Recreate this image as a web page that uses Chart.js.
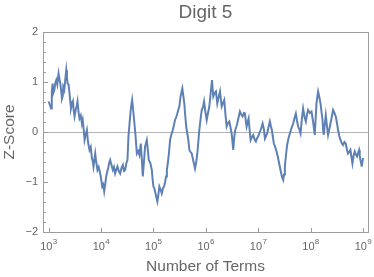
<!DOCTYPE html>
<html>
<head>
<meta charset="utf-8">
<script src="https://cdn.jsdelivr.net/npm/chart.js@4"></script>
<style>
  html, body { margin: 0; padding: 0; background: #fff; }
  #chart { display: block; }
</style>
</head>
<body>
<canvas id="chart" width="374" height="277"></canvas>
<script>
// log10(number of terms)
let termExponents = [
  3.000, 3.032, 3.046, 3.061, 3.076, 3.090, 3.109, 3.128, 3.147, 3.166, 3.190, 3.204, 3.223, 3.242, 3.255, 3.270,
  3.280, 3.299, 3.318, 3.337, 3.350, 3.362, 3.381, 3.400, 3.413, 3.427, 3.446, 3.465, 3.480, 3.495, 3.518, 3.537,
  3.552, 3.571, 3.590, 3.613, 3.636, 3.651, 3.670, 3.686, 3.709, 3.731, 3.752, 3.781, 3.804, 3.827, 3.842, 3.857,
  3.874, 3.890, 3.909, 3.933, 3.956, 3.985, 4.004, 4.023, 4.042, 4.061, 4.080, 4.099, 4.118, 4.137, 4.156, 4.175,
  4.200, 4.227, 4.248, 4.270, 4.293, 4.314, 4.339, 4.366, 4.390, 4.417, 4.438, 4.461, 4.484, 4.505, 4.524, 4.547,
  4.570, 4.594, 4.613, 4.632, 4.657, 4.684, 4.709, 4.733, 4.760, 4.779, 4.798, 4.819, 4.842, 4.874, 4.893, 4.912,
  4.941, 4.970, 4.985, 5.000, 5.017, 5.032, 5.055, 5.076, 5.095, 5.114, 5.137, 5.160, 5.185, 5.204, 5.223, 5.242,
  5.257, 5.274, 5.299, 5.318, 5.343, 5.370, 5.394, 5.413, 5.436, 5.457, 5.476, 5.495, 5.518, 5.552, 5.571, 5.590,
  5.604, 5.627, 5.648, 5.667, 5.686, 5.709, 5.731, 5.762, 5.794, 5.817, 5.838, 5.857, 5.876, 5.899, 5.922, 5.947,
  5.966, 5.990, 6.017, 6.042, 6.067, 6.093, 6.118, 6.131, 6.143, 6.170, 6.194, 6.219, 6.246, 6.270, 6.303, 6.328,
  6.352, 6.375, 6.398, 6.423, 6.448, 6.470, 6.493, 6.509, 6.524, 6.543, 6.562, 6.581, 6.600, 6.627, 6.651, 6.676,
  6.703, 6.728, 6.747, 6.766, 6.779, 6.798, 6.817, 6.836, 6.855, 6.880, 6.905, 6.931, 6.956, 6.979, 7.000, 7.023,
  7.046, 7.065, 7.084, 7.109, 7.128, 7.150, 7.171, 7.198, 7.223, 7.242, 7.261, 7.280, 7.299, 7.324, 7.350, 7.375,
  7.400, 7.423, 7.446, 7.461, 7.476, 7.493, 7.509, 7.531, 7.552, 7.579, 7.604, 7.636, 7.667, 7.693, 7.718, 7.741,
  7.762, 7.785, 7.808, 7.832, 7.857, 7.884, 7.909, 7.931, 7.952, 7.985, 8.017, 8.048, 8.080, 8.095, 8.112, 8.128,
  8.143, 8.166, 8.189, 8.208, 8.227, 8.238, 8.251, 8.270, 8.290, 8.312, 8.333, 8.356, 8.379, 8.404, 8.429, 8.455,
  8.480, 8.503, 8.524, 8.547, 8.570, 8.594, 8.619, 8.646, 8.670, 8.693, 8.714, 8.737, 8.760, 8.779, 8.798, 8.819,
  8.842, 8.865, 8.886, 8.905, 8.924, 8.937, 8.950, 8.964, 8.975, 9.000
];
let zScores = [
  0.61, 0.52, 0.47, 0.80, 0.97, 0.78, 0.84, 0.98, 1.04, 0.95, 1.17, 1.08, 0.97, 0.80, 0.67, 0.72,
  0.90, 0.84, 1.05, 1.24, 1.10, 0.97, 0.95, 0.77, 0.62, 0.47, 0.55, 0.61, 0.42, 0.31, 0.45, 0.52,
  0.61, 0.40, 0.27, 0.33, 0.17, 0.24, 0.05, -0.16, -0.05, 0.04, -0.20, -0.36, -0.30, -0.53, -0.58, -0.69,
  -0.55, -0.43, -0.60, -0.76, -0.70, -0.83, -0.95, -1.09, -1.05, -1.19, -1.05, -0.89, -0.80, -0.72, -0.62, -0.56,
  -0.66, -0.76, -0.70, -0.83, -0.75, -0.69, -0.78, -0.83, -0.72, -0.66, -0.78, -0.76, -0.62, -0.56, -0.09, 0.20,
  0.47, 0.64, 0.45, 0.24, -0.05, -0.43, -0.38, -0.46, -0.23, -0.55, -0.89, -0.60, -0.29, -0.16, -0.35, -0.56,
  -0.62, -0.76, -0.95, -1.09, -1.12, -1.19, -1.30, -1.39, -1.25, -1.09, -1.15, -1.23, -1.12, -1.09, -1.00, -0.89,
  -0.75, -0.63, -0.40, -0.16, -0.05, 0.04, 0.15, 0.24, 0.30, 0.37, 0.45, 0.51, 0.71, 0.87, 0.72, 0.57,
  0.37, 0.10, -0.03, -0.16, -0.36, -0.40, -0.43, -0.58, -0.73, -0.60, -0.43, -0.20, 0.04, 0.25, 0.44, 0.50,
  0.61, 0.42, 0.24, 0.38, 0.51, 0.78, 1.04, 0.85, 0.71, 0.78, 0.81, 0.57, 0.70, 0.81, 0.51, 0.58,
  0.64, 0.35, 0.11, 0.18, 0.21, 0.10, -0.03, -0.20, -0.36, -0.10, 0.04, 0.10, 0.17, 0.30, 0.41, 0.35,
  0.31, 0.38, 0.37, 0.20, 0.11, 0.20, 0.27, 0.05, -0.16, -0.10, -0.06, -0.15, -0.19, -0.12, -0.09, -0.02,
  0.04, 0.10, 0.17, 0.05, -0.13, -0.08, -0.03, 0.10, 0.21, 0.12, 0.04, -0.10, -0.23, -0.30, -0.39, -0.50,
  -0.63, -0.75, -0.86, -0.92, -0.96, -0.85, -0.69, -0.45, -0.26, -0.12, -0.03, 0.08, 0.17, 0.28, 0.37, 0.22,
  0.11, 0.05, -0.03, 0.25, 0.47, 0.30, 0.21, 0.35, 0.44, 0.38, 0.41, 0.20, -0.06, 0.25, 0.57, 0.70,
  0.81, 0.70, 0.57, 0.40, 0.24, 0.05, -0.06, 0.15, 0.34, 0.12, -0.06, 0.05, 0.17, 0.30, 0.44, 0.38,
  0.31, 0.18, 0.04, -0.08, -0.16, -0.22, -0.26, -0.20, -0.23, -0.35, -0.43, -0.40, -0.36, -0.50, -0.63, -0.48,
  -0.39, -0.45, -0.49, -0.42, -0.36, -0.48, -0.56, -0.62, -0.69, -0.52
];
let xTickExponents = [3, 4, 5, 6, 7, 8, 9];
let yTicks = [-2, -1, 0, 1, 2];

let lineColor = "#5e81b5";
let textColor = "#666666";
let frameColor = "#9d9d9d";
let fontFamily = "'Liberation Sans', Arial, sans-serif";

let points = termExponents.map((e, i) => ({ x: Math.pow(10, e), y: zScores[i] }));

// frame, zero axis and inward ticks (Mathematica style)
let framePlugin = {
  id: "frame",
  beforeDatasetsDraw(chart) {
    let { ctx, chartArea: a, scales } = chart;
    ctx.save();
    ctx.lineWidth = 1;
    ctx.strokeStyle = "#b4b4b4";
    let y0 = Math.round(scales.y.getPixelForValue(0)) + 0.5;
    ctx.beginPath(); ctx.moveTo(a.left, y0); ctx.lineTo(a.right, y0); ctx.stroke();
    ctx.strokeStyle = frameColor;
    ctx.beginPath();
    for (let i = -10; i <= 10; i++) {
      let py = Math.round(scales.y.getPixelForValue(i / 5)) + 0.5;
      let len = (i % 5 === 0) ? 5 : 3;
      ctx.moveTo(a.left, py); ctx.lineTo(a.left + len, py);
    }
    xTickExponents.forEach(e => {
      let px = Math.round(scales.x.getPixelForValue(Math.pow(10, e))) + 0.5;
      ctx.moveTo(px, a.bottom); ctx.lineTo(px, a.bottom - 4);
    });
    ctx.stroke();
    ctx.strokeRect(Math.round(a.left) + 0.5, Math.round(a.top) + 0.5, Math.round(a.right - a.left), Math.round(a.bottom - a.top));
    ctx.restore();
  },
  // 10^n labels with a real raised exponent
  afterDraw(chart) {
    let { ctx, chartArea: a, scales } = chart;
    ctx.save();
    ctx.fillStyle = textColor;
    ctx.textBaseline = "alphabetic";
    ctx.textAlign = "left";
    xTickExponents.forEach(e => {
      let px = scales.x.getPixelForValue(Math.pow(10, e));
      ctx.font = "11px " + fontFamily;
      let w1 = ctx.measureText("10").width;
      ctx.font = "8px " + fontFamily;
      let w2 = ctx.measureText(String(e)).width;
      let x0 = px - (w1 + w2) / 2;
      ctx.font = "11px " + fontFamily;
      ctx.fillText("10", x0, a.bottom + 17.5);
      ctx.font = "8px " + fontFamily;
      ctx.fillText(String(e), x0 + w1 + 0.3, a.bottom + 12);
    });
    ctx.restore();
  }
};

Chart.defaults.font.family = fontFamily;

new Chart(document.getElementById("chart"), {
  type: "line",
  data: {
    datasets: [{
      data: points,
      borderColor: lineColor,
      borderWidth: 2,
      pointRadius: 0,
      tension: 0,
      fill: false
    }]
  },
  options: {
    responsive: false,
    animation: false,
    devicePixelRatio: 1,
    layout: { padding: { top: 0, right: 6, bottom: 0, left: 0 } },
    plugins: {
      legend: { display: false },
      tooltip: { enabled: false },
      title: {
        display: true,
        text: "Digit 5",
        fullSize: false,
        color: textColor,
        font: { size: 19, weight: "normal" },
        padding: { top: 1.6, bottom: 7.6 }
      }
    },
    scales: {
      x: {
        type: "logarithmic",
        min: 782,
        max: 1.245e9,
        afterBuildTicks: s => { s.ticks = xTickExponents.map(e => ({ value: Math.pow(10, e) })); },
        afterFit: s => { s.height = 45; },
        grid: { display: false, drawTicks: false },
        border: { display: false },
        ticks: {
          autoSkip: false,
          maxRotation: 0,
          callback: () => ""
        },
        title: {
          display: true,
          text: "Number of Terms",
          color: textColor,
          font: { size: 15.5 },
          padding: { top: 0, bottom: 1 }
        }
      },
      y: {
        min: -2,
        max: 2,
        afterBuildTicks: s => { s.ticks = yTicks.map(v => ({ value: v })); },
        afterFit: s => { s.width = 43; },
        grid: { display: false, drawTicks: false },
        border: { display: false },
        ticks: {
          padding: 5,
          color: textColor,
          font: { size: 11 },
          callback: v => v < 0 ? "\u2212" + (-v) : String(v)
        },
        title: {
          display: true,
          text: "Z-Score",
          color: textColor,
          font: { size: 15.5 },
          padding: { top: 0.7, bottom: 0 }
        }
      }
    }
  },
  plugins: [framePlugin]
});
</script>
</body>
</html>
